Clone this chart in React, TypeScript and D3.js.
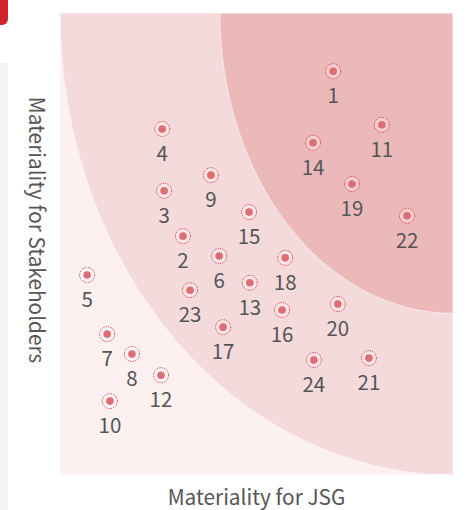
import React from "react";
import * as d3 from "d3";

// Materiality matrix data (x: Materiality for JSG, y: Materiality for Stakeholders), 0-100 scale
const ids = [1, 2, 3, 4, 5, 6, 7, 8, 9, 10, 11, 12, 13, 14, 15, 16, 17, 18, 19, 20, 21, 22, 23, 24];
const jsgValues = [69.5, 31.3, 26.5, 26.0, 6.9, 40.5, 12.0, 18.3, 38.4, 12.7, 81.9, 25.7, 48.3, 64.4, 48.1, 56.5, 41.5, 57.3, 74.3, 70.7, 78.6, 88.3, 33.1, 64.6];
const stakeholderValues = [87.4, 51.7, 61.5, 74.9, 43.3, 47.4, 30.5, 26.2, 64.9, 16.0, 75.8, 21.6, 41.6, 71.9, 56.9, 35.7, 32.0, 47.0, 63.0, 37.0, 25.3, 56.1, 40.0, 24.9];

// zones: quarter ellipses centred on the top-right corner (radius in axis units)
const zoneRadiiX = [100, 59.3];
const zoneRadiiY = [100, 65.0];
const zoneColors = ["#f5dadc", "#ecb9bb"];

const xTitle = "Materiality for JSG";
const yTitle = "Materiality for Stakeholders";

const W = 467;
const H = 510;
const plot = { left: 60, right: 453, top: 13, bottom: 475 };
const font = "'Noto Sans CJK JP', 'Noto Sans', sans-serif";

export default function App() {
  const x = d3.scaleLinear().domain([0, 100]).range([plot.left, plot.right]);
  const y = d3.scaleLinear().domain([0, 100]).range([plot.bottom, plot.top]);

  const pts = ids.map((id, i) => ({ id, x: jsgValues[i], y: stakeholderValues[i] }));

  return (
    <svg
      width={W}
      height={H}
      style={{ position: "absolute", left: 0, top: 0, background: "#fff" }}
    >
      <defs>
        <clipPath id="plotClip">
          <rect x={plot.left} y={plot.top} width={plot.right - plot.left} height={plot.bottom - plot.top} />
        </clipPath>
      </defs>
      {/* side decorations */}
      <rect x={0} y={63} width={8} height={H - 63} fill="#f3f3f3" />
      <path d="M0,0 H8 V19 A6,6 0 0 1 2,25 H0 Z" fill="#d2222a" />

      {/* plot background */}
      <rect
        x={plot.left}
        y={plot.top}
        width={plot.right - plot.left}
        height={plot.bottom - plot.top}
        fill="#fcf0f1"
      />
      <g clipPath="url(#plotClip)">
        {zoneRadiiX.map((rx, i) => (
          <ellipse
            key={i}
            cx={x(100)}
            cy={y(100)}
            rx={x(100) - x(100 - rx)}
            ry={y(100 - zoneRadiiY[i]) - y(100)}
            fill={zoneColors[i]}
            stroke="rgba(255,255,255,0.45)"
            strokeWidth={1}
          />
        ))}
      </g>
      <rect
        x={plot.left + 0.5}
        y={plot.top + 0.5}
        width={plot.right - plot.left - 1}
        height={plot.bottom - plot.top - 1}
        fill="none"
        stroke="rgba(255,255,255,0.4)"
      />

      {/* points */}
      {pts.map((p) => (
        <g key={p.id}>
          <circle
            cx={x(p.x)}
            cy={y(p.y)}
            r={7.5}
            fill="rgba(255,255,255,0.3)"
            stroke="#e0323c"
            strokeWidth={1}
            strokeDasharray="1.2 1.2"
          />
          <circle cx={x(p.x)} cy={y(p.y)} r={3.8} fill="#de6d74" />
          <text
            x={x(p.x)}
            y={y(p.y) + 32}
            textAnchor="middle"
            fontFamily={font}
            fontSize={20.5}
            fill="#555"
          >
            {p.id}
          </text>
        </g>
      ))}

      {/* axis titles */}
      <text
        x={(plot.left + plot.right) / 2}
        y={505}
        textAnchor="middle"
        fontFamily={font}
        fontSize={20.8}
        fill="#555"
      >
        {xTitle}
      </text>
      <text
        transform="translate(28.5,230) rotate(90)"
        textAnchor="middle"
        fontFamily={font}
        fontSize={20.8}
        fill="#555"
      >
        {yTitle}
      </text>
    </svg>
  );
}
